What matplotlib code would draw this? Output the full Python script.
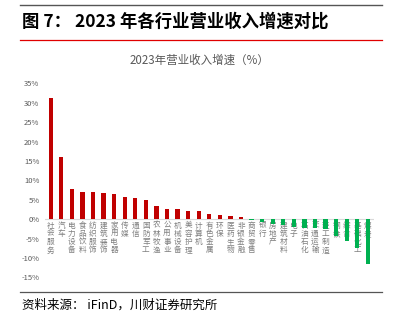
import matplotlib.pyplot as plt
from matplotlib.lines import Line2D
from matplotlib.transforms import blended_transform_factory

plt.rcParams['font.family'] = ['Noto Sans CJK SC', 'DejaVu Sans']
plt.rcParams['axes.unicode_minus'] = False

# industries (SW level-1), sorted by 2023 revenue growth
industries = ['社会服务', '汽车', '电力设备', '食品饮料', '纺织服饰', '建筑装饰', '家用电器',
              '传媒', '通信', '国防军工', '农林牧渔', '公用事业', '机械设备', '美容护理',
              '计算机', '有色金属', '环保', '医药生物', '非银金融', '商贸零售', '银行',
              '房地产', '建筑材料', '电子', '石油石化', '交通运输', '轻工制造', '钢铁',
              '综合', '基础化工', '煤炭']
growth = [31.1, 16.0, 7.9, 7.0, 7.0, 6.8, 6.4, 5.7, 5.5, 4.9, 3.5, 2.7, 2.6, 2.2,
          2.2, 1.3, 1.1, 0.8, 0.6, -0.2, -0.7, -1.2, -1.6, -2.0, -2.2, -2.3, -2.5,
          -4.4, -5.7, -7.5, -11.4]
yticks = [-15, -10, -5, 0, 5, 10, 15, 20, 25, 30, 35]

RED = '#C00000'
GREEN = '#00B050'
GRAY = '#595959'

W, H = 401, 329
fig = plt.figure(figsize=(W / 100, H / 100), dpi=100)

# header / footer rules
fig.add_artist(Line2D([20 / W, 382 / W], [1 - 4.5 / H] * 2, color='#555555', lw=1.0))
fig.add_artist(Line2D([20 / W, 382 / W], [1 - 40 / H] * 2, color='#E00000', lw=0.9))
fig.add_artist(Line2D([20 / W, 382 / W], [1 - 292 / H] * 2, color='#555555', lw=0.9))

fig.text(22 / W, 1 - 22 / H, '图 7： 2023 年各行业营业收入增速对比', fontsize=12.5,
         fontweight='bold', va='center', ha='left', color='black')
fig.text(22 / W, 1 - 305 / H, '资料来源： iFinD，川财证券研究所', fontsize=9,
         style='italic', va='center', ha='left', color='black')
fig.text(199 / W, 1 - 60 / H, '2023年营业收入增速（%）', fontsize=8.3,
         va='center', ha='center', color=GRAY)

ax = fig.add_axes([45 / W, 1 - 277.5 / H, 328.6 / W, (277.5 - 83.3) / H])
x = list(range(len(industries)))
colors = [RED if v >= 0 else GREEN for v in growth]
ax.bar(x, growth, width=0.4, color=colors, zorder=2)
ax.axhline(0, color='#D9D9D9', lw=0.8, zorder=1)

ax.set_xlim(-0.54, len(industries) - 0.46)
ax.set_ylim(-15, 35)
ax.set_yticks(yticks)
ax.set_yticklabels([f'{t}%' for t in yticks], fontsize=5.5, color=GRAY)
ax.tick_params(axis='y', length=0, pad=4)
ax.set_xticks([])
for s in ax.spines.values():
    s.set_visible(False)

trans = blended_transform_factory(ax.transData, ax.transData)
for i, name in enumerate(industries):
    ax.text(i, -0.6, '\n'.join(name), fontsize=5.5, color='#7F7F7F', ha='center',
            va='top', linespacing=1.05, transform=trans, zorder=0.5)

fig.savefig('out.png', dpi=100)
